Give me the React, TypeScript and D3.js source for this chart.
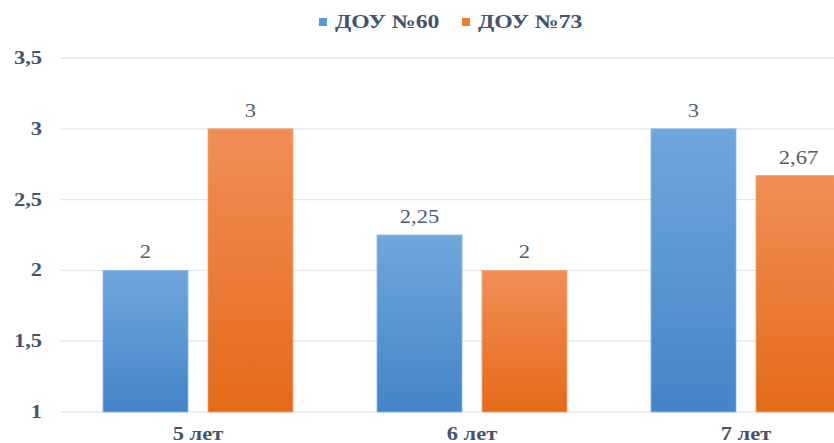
import React from "react";
import * as d3 from "d3";

const categories = ["5 лет", "6 лет", "7 лет"];
const seriesNames = ["ДОУ №60", "ДОУ №73"];
const dou60 = [2, 2.25, 3];
const dou73 = [3, 2, 2.67];
const yTicks = [1, 1.5, 2, 2.5, 3, 3.5];

const W = 834;
const H = 443;
const fmt = (v: number) => String(v).replace(".", ",");
const FONT = "Liberation Serif";
const SX = 1.25; // horizontally widened lettering

type TProps = {
  x: number;
  y: number;
  anchor?: "start" | "middle" | "end";
  size: number;
  bold?: boolean;
  fill: string;
  children: React.ReactNode;
};

function WideText({ x, y, anchor = "start", size, bold, fill, children }: TProps) {
  return (
    <text
      transform={`translate(${x},${y}) scale(${SX},1)`}
      textAnchor={anchor}
      fontSize={size}
      fontWeight={bold ? "bold" : "normal"}
      fill={fill}
      style={{ fontFamily: FONT }}
    >
      {children}
    </text>
  );
}

export default function App() {
  const left = 61;
  const step = 274;
  const x = d3
    .scaleBand<string>()
    .domain(categories)
    .range([left, left + step * categories.length])
    .paddingInner(0)
    .paddingOuter(0);
  const inner = d3
    .scaleBand<string>()
    .domain(seriesNames)
    .range([42, step - 42])
    .paddingInner(20 / 105);
  const y = d3.scaleLinear().domain([1, 3.5]).range([412, 58]);

  const series = [
    { name: seriesNames[0], values: dou60, grad: "gBlue", sw: "#5B9BD5", edge: "#8DB8E4" },
    { name: seriesNames[1], values: dou73, grad: "gOrange", sw: "#ED7D31", edge: "#F4A577" },
  ];

  const textCol = "#44546A";

  return (
    <svg
      width={W}
      height={H}
      style={{ position: "absolute", left: 0, top: 0, background: "#fff" }}
    >
      <defs>
        <linearGradient id="gBlue" x1="0" y1="0" x2="0" y2="1">
          <stop offset="0%" stopColor="#70A6DC" />
          <stop offset="100%" stopColor="#4385C8" />
        </linearGradient>
        <linearGradient id="gOrange" x1="0" y1="0" x2="0" y2="1">
          <stop offset="0%" stopColor="#F18E57" />
          <stop offset="100%" stopColor="#E46A18" />
        </linearGradient>
      </defs>

      {/* gridlines */}
      {yTicks.map((t) => (
        <line
          key={t}
          x1={left}
          x2={W}
          y1={y(t)}
          y2={y(t)}
          stroke="#E3E6EC"
          strokeWidth={1.3}
        />
      ))}

      {/* y-axis labels */}
      {yTicks.map((t) => (
        <WideText key={t} x={42} y={y(t) + 6} anchor="end" size={18} bold fill={textCol}>
          {fmt(t)}
        </WideText>
      ))}

      {/* bars with value labels */}
      {categories.map((c, i) => (
        <g key={c} transform={`translate(${x(c)},0)`}>
          {series.map((s) => {
            const bx = inner(s.name)!;
            const by = y(s.values[i]);
            return (
              <g key={s.name}>
                <rect
                  x={bx}
                  y={by}
                  width={inner.bandwidth()}
                  height={y(1) - by}
                  fill={`url(#${s.grad})`}
                  stroke={s.edge}
                  strokeWidth={0.8}
                />
                <WideText
                  x={bx + inner.bandwidth() / 2}
                  y={by - 12}
                  anchor="middle"
                  size={18}
                  fill="#505C6E"
                >
                  {fmt(s.values[i])}
                </WideText>
              </g>
            );
          })}
          <WideText x={x.bandwidth() / 2} y={440} anchor="middle" size={18} bold fill={textCol}>
            {c}
          </WideText>
        </g>
      ))}

      {/* legend */}
      {series.map((s, i) => {
        const lx = 319 + i * 143;
        return (
          <g key={s.name}>
            <rect x={lx} y={18} width={8} height={8} fill={s.sw} />
            <WideText x={lx + 16} y={28} size={19} bold fill={textCol}>
              {s.name}
            </WideText>
          </g>
        );
      })}
    </svg>
  );
}
